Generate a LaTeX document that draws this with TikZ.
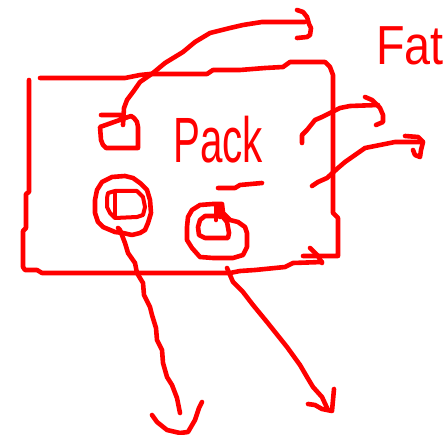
\documentclass[tikz,border=0pt]{standalone}
\usepackage{fontspec}
\newfontfamily\handfont{Liberation Sans}
\begin{document}
\begin{tikzpicture}[x=1pt,y=-1pt,
  pen/.style={draw=red,line width=4.6pt,line cap=round,line join=round},
  thin pen/.style={pen,line width=4pt},
  label/.style={text=red,inner sep=0pt,font=\handfont}]
\useasboundingbox (0,0) rectangle (444,435);
% main box
\draw[pen] (40,78) -- (125,78) -- (140,75) -- (150,74) -- (207,74) -- (213,70) -- (240,70) -- (265,68) -- (283,67) -- (290,62) -- (325,62) -- (330,67) -- (333,75) -- (333,213) -- (338,218) -- (338,256) -- (303,256);
\draw[pen] (29,80) -- (29,192) -- (26,194) -- (26,228) -- (23,231) -- (23,267) -- (25,270) -- (37,270) -- (42,273) -- (230,273) -- (240,271) -- (255,270) -- (285,267) -- (293,263) -- (322,262);
\draw[pen] (310,248) -- (318,256) -- (322,263);
% small square
\draw[pen] (101,115) -- (121,115) (131,116) -- (134,118) -- (137,122) -- (138,127) -- (138,148) -- (106,148) -- (103,145) -- (101,140) -- (100,127) -- cycle;
\coordinate (sq) at (123,125);
% texts
\node[label,font=\handfont\fontsize{64}{64}\selectfont,xscale=0.63,anchor=base west] (pack) at (173,163) {Pack};
\node[label,font=\handfont\fontsize{55}{55}\selectfont,xscale=0.85,anchor=base west] (fat) at (376,65) {Fat};
\draw[pen] (218,188) -- (235,188) -- (240,185) -- (262,183);
% arrow from square
\draw[pen] (sq) -- (124,108) -- (127,100) -- (133,92) -- (140,82) -- (153,73) -- (165,63) -- (183,52) -- (195,42) -- (210,33) -- (230,28) -- (243,25) -- (262,22) -- (305,22);
\draw[pen] (297,10) -- (303,12) -- (307,17) -- (309,24) -- (311,28) -- (310,35) -- (307,37) -- (297,38);
% right arrow 1
\coordinate (r1) at (302,143);
\draw[pen] (r1) -- (302,135) -- (307,130) -- (315,120) -- (322,117) -- (330,113) -- (340,108) -- (350,106) -- (378,105);
\draw[pen] (365,97) -- (372,100) -- (380,108) -- (383,115) -- (383,122) -- (376,125);
% right arrow 2
\coordinate (r2) at (312,186);
\draw[pen] (r2) -- (318,182) -- (327,178) -- (338,168) -- (345,162) -- (355,155) -- (365,148) -- (380,145) -- (395,142) -- (423,142);
\draw[pen] (405,136) -- (418,137) -- (423,142) -- (421,150) -- (420,157) -- (415,155) -- (413,150);
% circle 1
\draw[pen] (97,190) -- (102,182) -- (112,177) -- (125,176) -- (133,178) -- (140,183) -- (147,190) -- (150,200) -- (151,213) -- (148,223) -- (145,230) -- (140,233) -- (132,235) -- (123,233) -- (115,232) -- (103,227) -- (98,222) -- (95,213) -- (95,200) -- cycle;
\draw[thin pen] (108,193) -- (115,191) -- (137,191) -- (143,197) -- (145,207) -- (143,215) -- (137,217) -- (115,218) -- (110,213) -- (107,207) -- (107,198) -- cycle;
\draw[thin pen] (115,193) -- (115,217);
\coordinate (c1) at (118,228);
% circle 2
\draw[pen] (213,204) -- (200,205) -- (192,210) -- (188,217) -- (187,227) -- (187,240) -- (192,248) -- (200,257) -- (213,258) -- (233,258) -- (243,255) -- (247,247) -- (247,233) -- (245,227) -- (238,222) -- (230,220) -- (223,213) -- (222,204) -- cycle;
\draw[pen] (200,220) -- (205,216) -- (222,216) -- (227,222) -- (229,233) -- (228,238) -- (205,238) -- (199,235) -- (198,227) -- cycle;
\draw[pen] (216,205) -- (216,220) (220,207) -- (220,217);
\coordinate (c2) at (227,268);
% down arrow 1
\draw[pen] (c1) -- (120,230) -- (125,243) -- (128,253) -- (135,263) -- (137,273) -- (143,283) -- (144,295) -- (150,307) -- (152,315) -- (156,328) -- (157,340) -- (162,350) -- (163,363) -- (167,377) -- (172,385) -- (177,398) -- (180,413);
\draw[pen] (152,415) -- (157,422) -- (167,430) -- (180,433) -- (188,432) -- (195,420) -- (199,408) -- (202,402);
% down arrow 2
\draw[pen] (c2) -- (233,282) -- (243,292) -- (253,305) -- (267,322) -- (275,332) -- (287,347) -- (300,365) -- (307,377) -- (313,387) -- (322,397) -- (328,410);
\draw[pen] (308,404) -- (315,405) -- (322,409) -- (332,411) -- (333,400) -- (334,389);
\end{tikzpicture}
\end{document}
